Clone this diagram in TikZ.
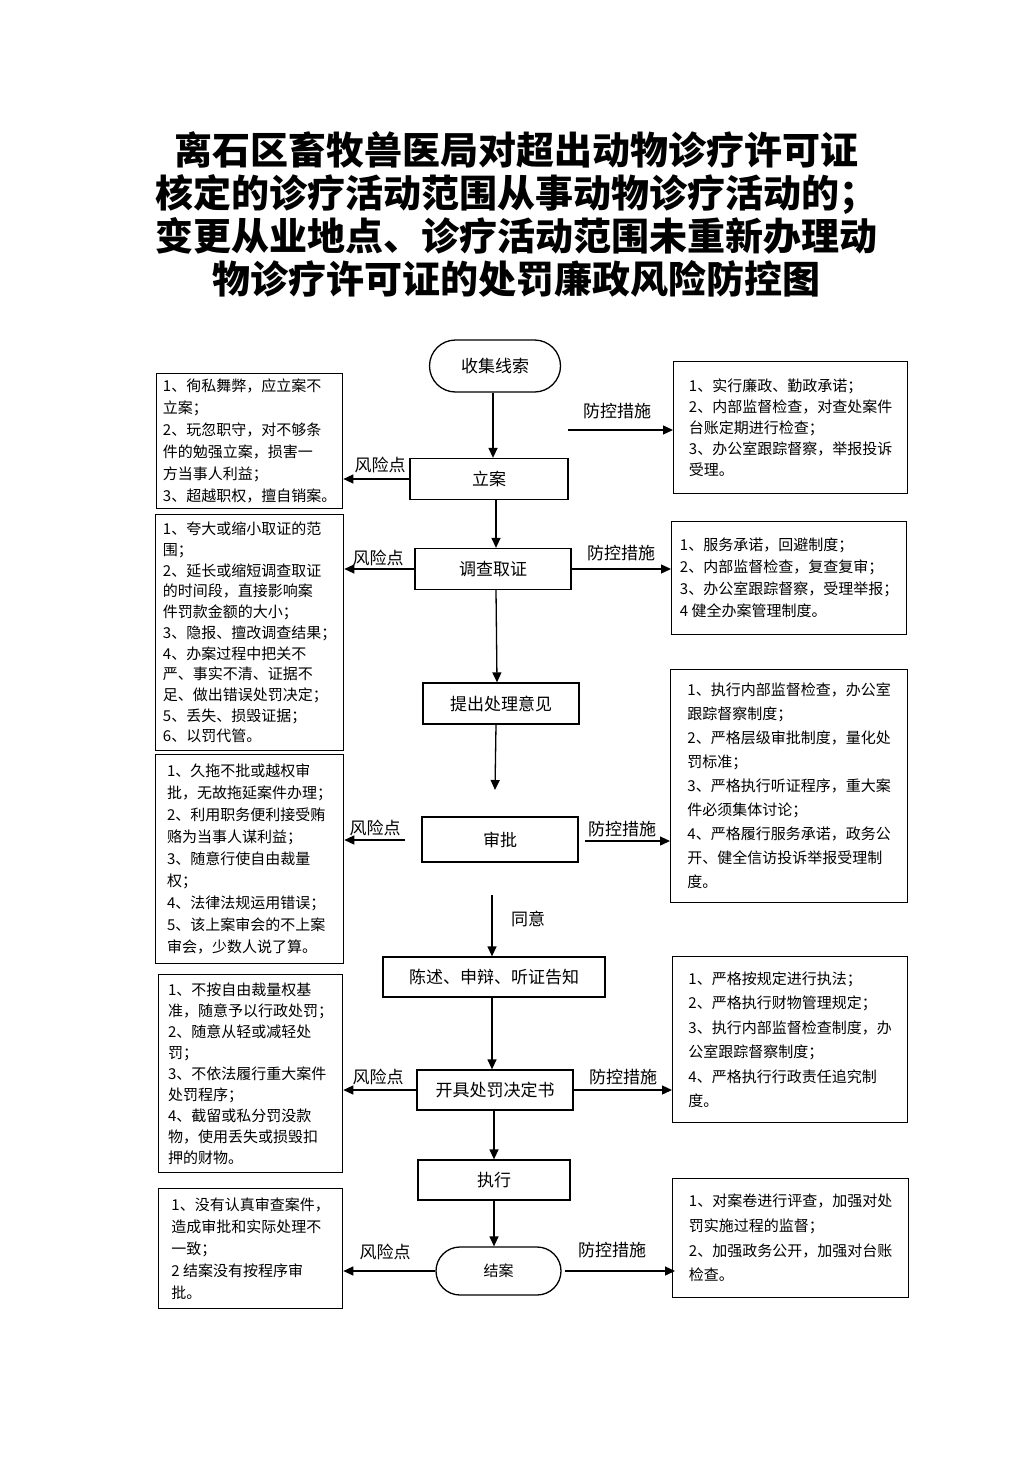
\documentclass[tikz,border=0pt]{standalone}
\usepackage{fontspec}
\setmainfont{Noto Sans CJK SC}
\usetikzlibrary{arrows.meta,calc}
\newcommand\bxf[1]{\fontsize{15pt}{#1pt}\selectfont}
\begin{document}
\begin{tikzpicture}[x=1pt,y=-1pt,
  flow/.style={draw, line width=1.3pt, inner sep=0pt, font=\fontsize{17pt}{20pt}\selectfont},
  txtbox/.style={draw, line width=1.3pt, anchor=north west, align=left, inner sep=0pt},
  arr/.style={line width=1.3pt, -{Triangle[length=10pt,width=9pt]}},
  lab/.style={inner sep=0pt, font=\fontsize{17pt}{20pt}\selectfont}]
\useasboundingbox (0,0) rectangle (1033,1461);

% title
\node[align=center, font=\fontsize{38pt}{43pt}\selectfont\bfseries] (title) at (516,214)
 {离石区畜牧兽医局对超出动物诊疗许可证\\核定的诊疗活动范围从事动物诊疗活动的；\\变更从业地点、诊疗活动范围未重新办理动\\物诊疗许可证的处罚廉政风险防控图};

% central flow
\node[flow, minimum width=131pt, minimum height=52pt, rounded corners=26pt] (sj) at (495,366) {收集线索};
\node[flow, minimum width=158pt, minimum height=41pt] (la) at (489,479) {立案};
\node[flow, minimum width=156pt, minimum height=41pt] (dc) at (493,569) {调查取证};
\node[flow, minimum width=156pt, minimum height=41pt] (tc) at (501,703.5) {提出处理意见};
\node[flow, minimum width=156pt, minimum height=45pt] (sp) at (500,839.5) {审批};
\node[flow, minimum width=222pt, minimum height=40pt] (cs) at (494,977) {陈述、申辩、听证告知};
\node[flow, minimum width=156pt, minimum height=40pt] (kj) at (495,1090) {开具处罚决定书};
\node[flow, minimum width=152pt, minimum height=40pt] (zx) at (494,1180) {执行};
\node[flow, minimum width=125pt, minimum height=48pt, rounded corners=24pt, font=\fontsize{15pt}{18pt}\selectfont] (ja) at (498.5,1271) {结案};

% left boxes
\node[txtbox, minimum width=186pt, minimum height=135pt, font=\bxf{22}] (L1) at (156,373)
 {1、徇私舞弊，应立案不\\立案；\\2、玩忽职守，对不够条\\件的勉强立案，损害一\\方当事人利益；\\3、超越职权，擅自销案。};
\node[txtbox, minimum width=188pt, minimum height=236pt, font=\bxf{20.7}] (L2) at (155,514)
 {1、夸大或缩小取证的范\\围；\\2、延长或缩短调查取证\\的时间段，直接影响案\\件罚款金额的大小；\\3、隐报、擅改调查结果；\\4、办案过程中把关不\\严、事实不清、证据不\\足、做出错误处罚决定；\\5、丢失、损毁证据；\\6、以罚代管。};
\node[txtbox, minimum width=188pt, minimum height=209pt, font=\bxf{22}] (L3) at (155,754)
 {1、久拖不批或越权审\\批，无故拖延案件办理；\\2、利用职务便利接受贿\\赂为当事人谋利益；\\3、随意行使自由裁量\\权；\\4、法律法规运用错误；\\5、该上案审会的不上案\\审会，少数人说了算。};
\node[txtbox, minimum width=184pt, minimum height=198pt, font=\bxf{21}] (L4) at (158,974)
 {1、不按自由裁量权基\\准，随意予以行政处罚；\\2、随意从轻或减轻处\\罚；\\3、不依法履行重大案件\\处罚程序；\\4、截留或私分罚没款\\物，使用丢失或损毁扣\\押的财物。};
\node[txtbox, minimum width=184pt, minimum height=120pt, font=\bxf{22}] (L5) at (158,1188)
 {1、没有认真审查案件，\\造成审批和实际处理不\\一致；\\2 结案没有按程序审\\批。};

% right boxes
\node[txtbox, minimum width=234pt, minimum height=132pt, font=\bxf{21}] (R1) at (673,361)
 {1、实行廉政、勤政承诺；\\2、内部监督检查，对查处案件\\台账定期进行检查；\\3、办公室跟踪督察，举报投诉\\受理。};
\node[txtbox, minimum width=235pt, minimum height=113pt, font=\bxf{22}] (R2) at (671,521)
 {1、服务承诺，回避制度；\\2、内部监督检查，复查复审；\\3、办公室跟踪督察，受理举报；\\4 健全办案管理制度。};
\node[txtbox, minimum width=237pt, minimum height=233pt, font=\bxf{24}] (R3) at (670,669)
 {1、执行内部监督检查，办公室\\跟踪督察制度；\\2、严格层级审批制度，量化处\\罚标准；\\3、严格执行听证程序，重大案\\件必须集体讨论；\\4、严格履行服务承诺，政务公\\开、健全信访投诉举报受理制\\度。};
\node[txtbox, minimum width=235pt, minimum height=166pt, font=\bxf{24.4}] (R4) at (672,956)
 {1、严格按规定进行执法；\\2、严格执行财物管理规定；\\3、执行内部监督检查制度，办\\公室跟踪督察制度；\\4、严格执行行政责任追究制\\度。};
\node[txtbox, minimum width=236pt, minimum height=119pt, font=\bxf{24.7}] (R5) at (672,1178)
 {1、对案卷进行评查，加强对处\\罚实施过程的监督；\\2、加强政务公开，加强对台账\\检查。};

% free ends
\coordinate (c0) at (568,430);
\coordinate (c1) at (495,790);
\coordinate (c2) at (492,895);
\coordinate (c3) at (405,840);
\coordinate (c4) at (585,841);

% vertical flow
\draw[arr] ([xshift=-2pt]sj.south) -- ([xshift=-2pt]sj.south |- la.north);
\draw[arr] ([xshift=7pt]la.south) -- ([xshift=7pt]la.south |- dc.north);
\draw[arr] ([xshift=3pt]dc.south) -- ([xshift=-4pt]tc.north);
\draw[arr] ([xshift=-5pt]tc.south) -- (c1);
\draw[arr] (c2) -- (c2 |- cs.north);
\draw[arr] ([xshift=-2pt]cs.south) -- ([xshift=-2pt]cs.south |- kj.north);
\draw[arr] ([xshift=-1pt]kj.south) -- ([xshift=-1pt]kj.south |- zx.north);
\draw[arr] (zx.south) -- (zx.south |- ja.north);
\node[lab] (ty) at (528,919) {同意};

% side arrows
\draw[arr] (la.west) -- (la.west -| L1.east);
\draw[arr] (c0) -- (c0 -| R1.west);
\draw[arr] (dc.west) -- (dc.west -| L2.east);
\draw[arr] (dc.east) -- (dc.east -| R2.west);
\draw[arr] (c3) -- (c3 -| L3.east);
\draw[arr] (c4) -- (c4 -| R3.west);
\draw[arr] (kj.west) -- (kj.west -| L4.east);
\draw[arr] (kj.east) -- (kj.east -| R4.west);
\draw[arr] (ja.west) -- (ja.west -| L5.east);
\draw[arr] ([xshift=3pt]ja.east) -- ([xshift=3pt]ja.east -| R5.west);

% labels
\node[lab] (f1) at (380,465) {风险点};
\node[lab] (p1) at (617,411) {防控措施};
\node[lab] (f2) at (378,558) {风险点};
\node[lab] (p2) at (621,553) {防控措施};
\node[lab] (f3) at (375,828) {风险点};
\node[lab] (p3) at (622,829) {防控措施};
\node[lab] (f4) at (378,1077) {风险点};
\node[lab] (p4) at (623,1077) {防控措施};
\node[lab] (f5) at (385,1252) {风险点};
\node[lab] (p5) at (612,1250) {防控措施};
\end{tikzpicture}
\end{document}
